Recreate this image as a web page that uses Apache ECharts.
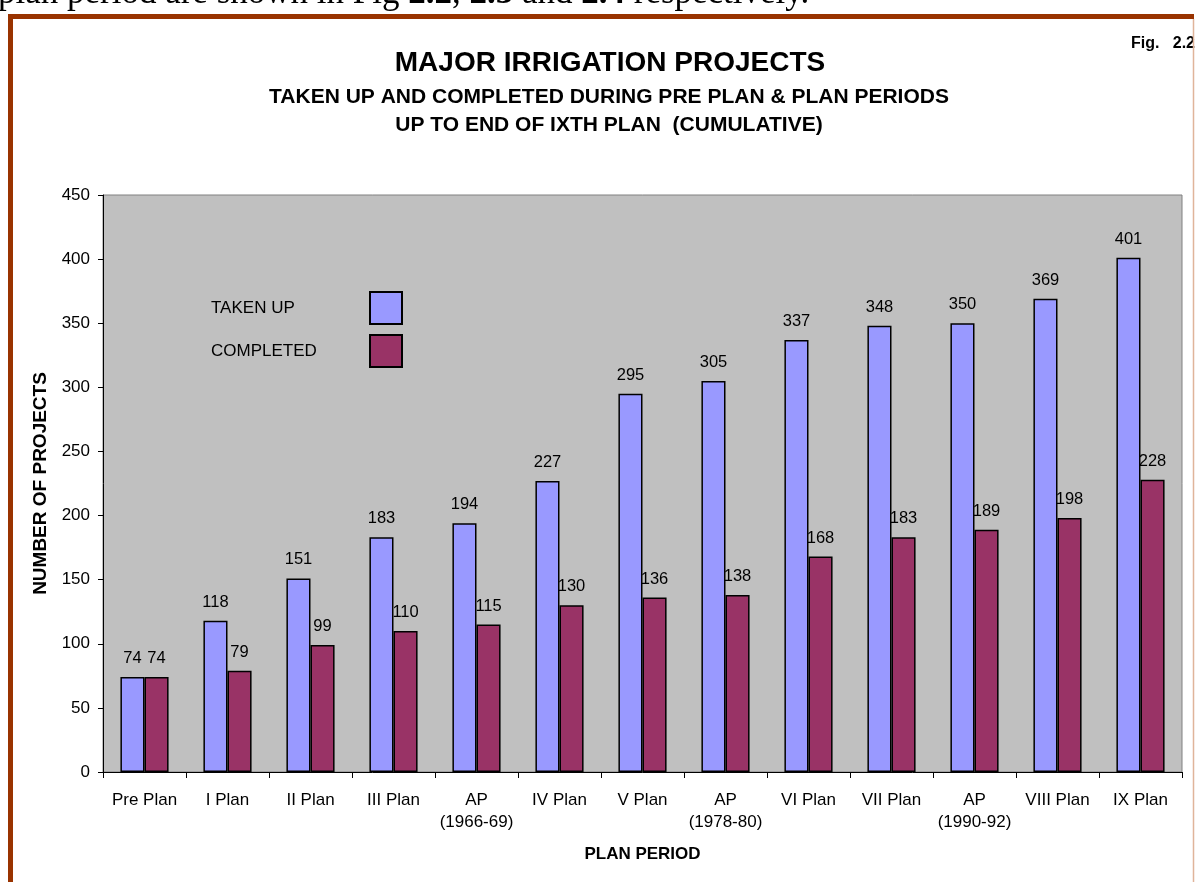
<!DOCTYPE html>
<html>
<head>
<meta charset="utf-8">
<script src="https://cdn.jsdelivr.net/npm/echarts@6/dist/echarts.min.js"></script>
<style>
  html, body { margin: 0; padding: 0; background: #ffffff; }
  #chart { width: 1197px; height: 882px; }
</style>
</head>
<body>
<div id="chart"></div>
<script>
const PERIODS = [
    "Pre Plan", "I Plan", "II Plan", "III Plan", "AP\n(1966-69)", "IV Plan", "V Plan",
    "AP\n(1978-80)", "VI Plan", "VII Plan", "AP\n(1990-92)", "VIII Plan", "IX Plan",
];
const TAKEN_UP = [74, 118, 151, 183, 194, 227, 295, 305, 337, 348, 350, 369, 401];
const COMPLETED = [74, 79, 99, 110, 115, 130, 136, 138, 168, 183, 189, 198, 228];
const Y_TICKS = { min: 0, max: 450, interval: 50 };

const FONT = "'Liberation Sans', Arial, sans-serif";
const SERIF = "'Liberation Serif', 'Times New Roman', serif";

const chart = echarts.init(document.getElementById("chart"));

const labelStyle = {
    show: true,
    position: "top",
    distance: 10,
    color: "#000",
    fontSize: 16.5,
    fontFamily: FONT,
};

chart.setOption({
    backgroundColor: "#ffffff",
    animation: false,
    textStyle: { fontFamily: FONT },
    title: [
        {
            text: "MAJOR IRRIGATION PROJECTS",
            left: 605, top: 44, textAlign: "center",
            textStyle: { fontSize: 28, fontWeight: "bold", color: "#000", fontFamily: FONT },
        },
        {
            text: "TAKEN UP AND COMPLETED DURING PRE PLAN & PLAN PERIODS",
            left: 604, top: 82, textAlign: "center",
            textStyle: { fontSize: 21, fontWeight: "bold", color: "#000", fontFamily: FONT },
        },
        {
            text: "UP TO END OF IXTH PLAN  (CUMULATIVE)",
            left: 604, top: 110, textAlign: "center",
            textStyle: { fontSize: 21, fontWeight: "bold", color: "#000", fontFamily: FONT },
        },
    ],
    legend: {
        orient: "vertical",
        right: 794,
        top: 291,
        padding: 0,
        align: "right",
        icon: "rect",
        itemWidth: 32,
        itemHeight: 32,
        itemGap: 9,
        selectedMode: false,
        formatter: "{t|{name}}",
        textStyle: {
            color: "#000",
            fontSize: 17,
            fontFamily: FONT,
            rich: { t: { fontSize: 17, fontFamily: FONT, width: 154, align: "left" } },
        },
        data: ["TAKEN UP", "COMPLETED"],
    },
    grid: {
        left: 103, right: 15, top: 195, bottom: 110,
        show: true,
        backgroundColor: "#c0c0c0",
        borderColor: "#808080",
        borderWidth: 1,
    },
    xAxis: {
        type: "category",
        data: PERIODS,
        name: "PLAN PERIOD",
        nameLocation: "middle",
        nameGap: 74,
        nameTextStyle: { fontSize: 17, fontWeight: "bold", color: "#000", fontFamily: FONT },
        axisLine: { lineStyle: { color: "#000", width: 1 } },
        axisTick: { show: true, length: 6, lineStyle: { color: "#000" } },
        axisLabel: { color: "#000", fontSize: 17, margin: 17, lineHeight: 22, fontFamily: FONT, interval: 0 },
    },
    yAxis: {
        type: "value",
        min: Y_TICKS.min,
        max: Y_TICKS.max,
        interval: Y_TICKS.interval,
        name: "NUMBER OF PROJECTS",
        nameLocation: "middle",
        nameGap: 52,
        nameTextStyle: { fontSize: 19, fontWeight: "bold", color: "#000", fontFamily: FONT },
        axisLine: { show: true, lineStyle: { color: "#000", width: 1 } },
        axisTick: { show: true, length: 5, lineStyle: { color: "#000" } },
        axisLabel: { color: "#000", fontSize: 17, margin: 13, fontFamily: FONT },
        splitLine: { show: false },
    },
    series: [
        {
            name: "TAKEN UP",
            type: "bar",
            data: TAKEN_UP,
            barGap: "0%",
            barCategoryGap: "42%",
            itemStyle: { color: "#9999ff", borderColor: "#000", borderWidth: 1.5 },
            label: labelStyle,
        },
        {
            name: "COMPLETED",
            type: "bar",
            data: COMPLETED,
            itemStyle: { color: "#993366", borderColor: "#000", borderWidth: 1.5 },
            label: labelStyle,
        },
    ],
    graphic: [
        {
            type: "text",
            left: -2,
            top: -24,
            silent: true,
            style: {
                text: "{n|plan period are shown in Fig }{b|2.2}{n|, }{b|2.3}{n| and }{b|2.4}{n| respectively.}",
                rich: {
                    n: { fontSize: 35, fontFamily: SERIF, fill: "#000" },
                    b: { fontSize: 35, fontWeight: "bold", fontFamily: SERIF, fill: "#000" },
                },
            },
        },
        {
            type: "text",
            right: 2,
            top: 36,
            silent: true,
            style: {
                text: "Fig.   2.2",
                fontSize: 16,
                fontWeight: "bold",
                fontFamily: FONT,
                fill: "#000",
            },
        },
        {
            type: "line",
            silent: true,
            shape: { x1: 10.5, y1: 16.5, x2: 1194, y2: 16.5 },
            style: { stroke: "#993300", lineWidth: 5 },
        },
        {
            type: "line",
            silent: true,
            shape: { x1: 10.5, y1: 14, x2: 10.5, y2: 882 },
            style: { stroke: "#993300", lineWidth: 5 },
        },
        {
            type: "line",
            silent: true,
            shape: { x1: 1193.5, y1: 19, x2: 1193.5, y2: 882 },
            style: { stroke: "#e0b49a", lineWidth: 1.5 },
        },
    ],
});
</script>
</body>
</html>
